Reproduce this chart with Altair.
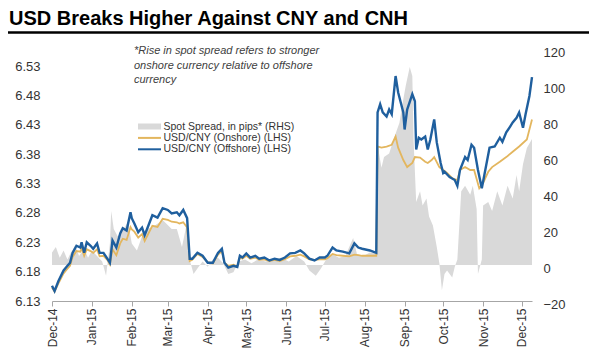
import altair as alt
import pandas as pd

title_text = "USD Breaks Higher Against CNY and CNH"
note_lines = ["*Rise in spot spread refers to stronger",
              "onshore currency relative to offshore",
              "currency"]
legend_labels = ["Spot Spread, in pips* (RHS)", "USD/CNY (Onshore) (LHS)", "USD/CNY (Offshore) (LHS)"]
legend_colors = ["#d9d9d9", "#e3b65e", "#1f5f9e"]

x_ticks = ["2014-12-01", "2015-01-01", "2015-02-01", "2015-03-01", "2015-04-01", "2015-05-01",
           "2015-06-01", "2015-07-01", "2015-08-01", "2015-09-01", "2015-10-01", "2015-11-01",
           "2015-12-01"]
x_domain = ["2014-12-01", "2015-12-09"]
left_ticks = [6.13, 6.18, 6.23, 6.28, 6.33, 6.38, 6.43, 6.48, 6.53]
left_domain = [6.13, 6.559]
right_ticks = [-20, 0, 20, 40, 60, 80, 100, 120]
right_domain = [-20, 120]

offshore_dates = [
    "2014-12-01", "2014-12-03", "2014-12-06", "2014-12-10", "2014-12-13", "2014-12-15", "2014-12-17",
    "2014-12-20", "2014-12-23", "2014-12-24", "2014-12-26", "2014-12-28", "2014-12-31", "2015-01-02",
    "2015-01-05", "2015-01-07", "2015-01-10", "2015-01-13", "2015-01-15", "2015-01-17", "2015-01-20",
    "2015-01-23", "2015-01-25", "2015-01-28", "2015-01-31", "2015-02-01", "2015-02-03", "2015-02-06",
    "2015-02-09", "2015-02-11", "2015-02-14", "2015-02-17", "2015-02-21", "2015-02-25", "2015-03-01",
    "2015-03-04", "2015-03-08", "2015-03-10", "2015-03-13", "2015-03-16", "2015-03-18", "2015-03-20",
    "2015-03-24", "2015-03-28", "2015-04-01", "2015-04-05", "2015-04-09", "2015-04-12", "2015-04-14",
    "2015-04-17", "2015-04-21", "2015-04-24", "2015-04-26", "2015-04-28", "2015-05-01", "2015-05-04",
    "2015-05-08", "2015-05-11", "2015-05-15", "2015-05-19", "2015-05-23", "2015-05-27", "2015-05-31",
    "2015-06-04", "2015-06-08", "2015-06-12", "2015-06-15", "2015-06-19", "2015-06-23", "2015-06-27",
    "2015-07-01", "2015-07-03", "2015-07-07", "2015-07-10", "2015-07-15", "2015-07-20", "2015-07-24",
    "2015-07-27", "2015-07-30", "2015-08-05", "2015-08-10",
    "2015-08-11", "2015-08-13", "2015-08-15", "2015-08-18", "2015-08-20", "2015-08-22", "2015-08-25",
    "2015-08-27", "2015-08-31", "2015-09-01", "2015-09-03", "2015-09-07", "2015-09-09", "2015-09-10",
    "2015-09-12", "2015-09-14", "2015-09-17", "2015-09-19", "2015-09-21", "2015-09-24", "2015-09-26",
    "2015-09-29", "2015-10-01", "2015-10-02", "2015-10-06", "2015-10-10", "2015-10-12", "2015-10-14",
    "2015-10-18", "2015-10-20", "2015-10-23", "2015-10-25", "2015-10-28", "2015-10-31", "2015-11-02",
    "2015-11-06", "2015-11-10", "2015-11-14", "2015-11-16", "2015-11-19", "2015-11-22", "2015-11-24",
    "2015-11-27", "2015-11-29", "2015-12-02", "2015-12-04", "2015-12-07", "2015-12-09"]
offshore_values = [
    6.156, 6.147, 6.164, 6.182, 6.190, 6.195, 6.212, 6.224, 6.221, 6.230, 6.212, 6.230, 6.224, 6.219,
    6.228, 6.212, 6.212, 6.202, 6.195, 6.233, 6.221, 6.245, 6.254, 6.250, 6.281, 6.271, 6.262, 6.247,
    6.255, 6.242, 6.259, 6.276, 6.272, 6.288, 6.285, 6.279, 6.281, 6.276, 6.285, 6.271, 6.202, 6.202,
    6.212, 6.207, 6.195, 6.195, 6.212, 6.219, 6.195, 6.187, 6.190, 6.188, 6.207, 6.204, 6.211, 6.204,
    6.207, 6.202, 6.204, 6.199, 6.202, 6.200, 6.204, 6.211, 6.212, 6.216, 6.211, 6.202, 6.199, 6.204,
    6.204, 6.207, 6.221, 6.216, 6.214, 6.211, 6.228, 6.221, 6.219, 6.216, 6.212,
    6.451, 6.465, 6.451, 6.444, 6.456, 6.448, 6.513, 6.485, 6.451, 6.422, 6.456, 6.482, 6.470, 6.388,
    6.408, 6.405, 6.410, 6.388, 6.405, 6.439, 6.400, 6.365, 6.348, 6.350, 6.341, 6.336, 6.326, 6.353,
    6.375, 6.370, 6.396, 6.391, 6.353, 6.322, 6.345, 6.391, 6.393, 6.408, 6.401, 6.417, 6.427, 6.434,
    6.442, 6.451, 6.425, 6.448, 6.479, 6.511]

onshore_dates = offshore_dates[:81] + [
    "2015-08-11", "2015-08-14", "2015-08-18", "2015-08-22", "2015-08-25", "2015-08-27", "2015-08-31",
    "2015-09-03", "2015-09-07", "2015-09-09", "2015-09-13", "2015-09-17", "2015-09-19", "2015-09-22",
    "2015-09-24", "2015-09-28", "2015-10-04", "2015-10-08", "2015-10-12", "2015-10-14", "2015-10-18",
    "2015-10-22", "2015-10-25", "2015-10-29", "2015-11-01", "2015-11-05", "2015-11-08", "2015-11-14",
    "2015-11-19", "2015-11-24", "2015-11-29", "2015-12-05", "2015-12-09"]
onshore_values = [
    6.153, 6.146, 6.160, 6.177, 6.185, 6.190, 6.205, 6.215, 6.214, 6.220,
    6.207, 6.218, 6.215, 6.212, 6.218, 6.206, 6.207, 6.200, 6.192, 6.218,
    6.208, 6.228, 6.236, 6.234, 6.256, 6.252, 6.248, 6.238, 6.244, 6.232,
    6.245, 6.258, 6.256, 6.270, 6.268, 6.265, 6.264, 6.262, 6.264, 6.255,
    6.198, 6.200, 6.210, 6.205, 6.196, 6.194, 6.209, 6.215, 6.195, 6.190,
    6.192, 6.189, 6.204, 6.202, 6.207, 6.202, 6.204, 6.200, 6.201, 6.198,
    6.200, 6.198, 6.201, 6.206, 6.207, 6.209, 6.206, 6.201, 6.200, 6.201,
    6.201, 6.203, 6.210, 6.208, 6.207, 6.206, 6.209, 6.208, 6.207, 6.207, 6.207,
    6.393, 6.391, 6.393, 6.396, 6.410, 6.391, 6.370, 6.358, 6.365, 6.375, 6.374, 6.367, 6.365, 6.370,
    6.375, 6.358, 6.348, 6.339, 6.336, 6.353, 6.358, 6.353, 6.353, 6.322, 6.331, 6.350, 6.358, 6.367,
    6.375, 6.384, 6.393, 6.405, 6.439]

spread_dates = [
    "2014-12-01", "2014-12-04", "2014-12-07", "2014-12-10", "2014-12-13", "2014-12-15", "2014-12-19",
    "2014-12-22", "2014-12-26", "2014-12-29", "2015-01-01", "2015-01-05", "2015-01-09", "2015-01-12",
    "2015-01-15", "2015-01-16", "2015-01-18", "2015-01-21", "2015-01-25", "2015-01-29", "2015-02-01",
    "2015-02-05", "2015-02-09", "2015-02-13", "2015-02-19", "2015-02-25", "2015-03-04", "2015-03-08",
    "2015-03-12", "2015-03-16", "2015-03-18", "2015-03-21", "2015-03-24", "2015-03-28", "2015-04-01",
    "2015-04-05", "2015-04-09", "2015-04-13", "2015-04-17", "2015-04-21", "2015-04-25", "2015-04-30",
    "2015-05-05", "2015-05-10", "2015-05-16", "2015-05-22", "2015-05-28", "2015-06-03", "2015-06-09",
    "2015-06-15", "2015-06-19", "2015-06-24", "2015-06-28", "2015-07-02", "2015-07-07", "2015-07-12",
    "2015-07-17", "2015-07-23", "2015-07-26", "2015-07-31", "2015-08-05", "2015-08-10", "2015-08-11",
    "2015-08-14", "2015-08-16", "2015-08-20", "2015-08-24", "2015-08-28", "2015-08-30", "2015-09-02",
    "2015-09-05", "2015-09-07", "2015-09-08", "2015-09-10", "2015-09-13", "2015-09-15", "2015-09-18",
    "2015-09-20", "2015-09-23", "2015-09-26", "2015-09-28", "2015-09-30", "2015-10-02", "2015-10-04",
    "2015-10-08", "2015-10-10", "2015-10-12", "2015-10-15", "2015-10-18", "2015-10-22", "2015-10-24",
    "2015-10-27", "2015-10-28", "2015-10-31", "2015-11-01", "2015-11-05", "2015-11-08", "2015-11-12",
    "2015-11-16", "2015-11-20", "2015-11-24", "2015-11-27", "2015-11-29", "2015-12-02", "2015-12-05",
    "2015-12-09"]
spread_values = [
    7, 10, 4, 8, 3, 6, 11, 5, 9, 4, 8, 5, 2, -6, 12, 30, 20, 16, 19, 24, 12, 8, 16, 20, 22, 25, 20, 20,
    10, 24, 3, -5, -2, 2, -1, 3, 4, 1, -5, -4, 2, 3, 1, 3, 2, 3, 4, 2, 5, 2, -3, -6, -2, 3, 6, 4, 5, 15,
    6, 5, 7, 7, 67, 54, 60, 62, 71, 79, 88, 100, 110, 105, 69, 35, 41, 33, 37, 27, 22, 10, 1, -14, -5,
    -3, -7, -1, 3, 41, 44, 39, 44, 31, -5, 3, 33, 35, 30, 41, 33, 44, 37, 50, 41, 56, 65, 70]

FONT = "Liberation Sans"


def utc(s):
    t = pd.Timestamp(s)
    return alt.DateTime(year=t.year, month=t.month, date=t.day, utc=True)


x_enc = alt.X("date:T",
              scale=alt.Scale(type="utc", domain=[utc(d) for d in x_domain]),
              axis=alt.Axis(values=[utc(d) for d in x_ticks], format="%b-%y", labelAngle=-90,
                            title=None, grid=False, domainColor="#a6a6a6", tickColor="#a6a6a6",
                            tickSize=5, labelPadding=2, labelFontSize=12, labelColor="#333333",
                            labelFont=FONT))

spread_df = pd.DataFrame({"date": spread_dates, "spread": spread_values})
cnh_df = pd.DataFrame({"date": offshore_dates, "rate": offshore_values})
cny_df = pd.DataFrame({"date": onshore_dates, "rate": onshore_values})

area = alt.Chart(spread_df).mark_area(color=legend_colors[0], interpolate="linear").encode(
    x=x_enc,
    y=alt.Y("spread:Q", scale=alt.Scale(domain=right_domain, nice=False, zero=False),
            axis=alt.Axis(orient="right", values=right_ticks, title=None, grid=False, domain=False,
                          ticks=False, labelPadding=11, labelFontSize=13, labelColor="#333333",
                          labelFont=FONT, labelOffset=3)))

left_scale = alt.Scale(domain=left_domain, nice=False, zero=False)
left_axis = alt.Axis(orient="left", values=left_ticks, format=".2f", title=None, grid=False,
                     domain=False, ticks=False, labelPadding=12, labelFontSize=13,
                     labelColor="#333333", labelFont=FONT)
cny_line = alt.Chart(cny_df).mark_line(color=legend_colors[1], strokeWidth=1.8).encode(
    x=x_enc, y=alt.Y("rate:Q", scale=left_scale, axis=left_axis))
cnh_line = alt.Chart(cnh_df).mark_line(color=legend_colors[2], strokeWidth=2.4).encode(
    x=x_enc, y=alt.Y("rate:Q", scale=left_scale, axis=left_axis))
lines = alt.layer(cny_line, cnh_line)

legend_layers = []
for i, (lab, col) in enumerate(zip(legend_labels, legend_colors)):
    yy = 77.5 + i * 11.4
    sw = 6 if i == 0 else 2
    ldf = pd.DataFrame({"label": [lab]})
    legend_layers.append(
        alt.Chart(ldf).mark_rule(color=col, strokeWidth=sw).encode(
            x=alt.value(86), x2=alt.value(109), y=alt.value(yy)))
    legend_layers.append(
        alt.Chart(ldf).mark_text(align="left", baseline="middle", fontSize=10.5, color="#333333",
                                 font=FONT).encode(
            x=alt.value(111.5), y=alt.value(yy), text="label:N"))

note = alt.Chart(pd.DataFrame({"k": [0]})).mark_text(
    align="left", baseline="top", fontSize=11, fontStyle="italic", color="#404040",
    font=FONT, lineHeight=14.5).encode(
    x=alt.value(82), y=alt.value(-4), text=alt.value(note_lines))

title_mark = alt.Chart(pd.DataFrame({"t": [title_text]})).mark_text(
    align="left", baseline="alphabetic", fontSize=20, fontWeight="bold", color="black",
    font=FONT).encode(x=alt.value(-43), y=alt.value(-24), text="t:N")

title_rule = alt.Chart(pd.DataFrame({"k": [0]})).mark_rule(color="black", strokeWidth=2.5).encode(
    x=alt.value(-47), x2=alt.value(543), y=alt.value(-16.5))

chart = alt.layer(area, lines, *legend_layers, note, title_mark, title_rule).resolve_scale(
    y="independent"
).properties(
    width=480, height=252,
    padding={"left": 44, "top": 41, "right": 57, "bottom": 55},
    autosize=alt.AutoSizeParams(type="none"),
).configure_view(stroke=None)

chart.save("out.html", embed_options={"renderer": "svg", "actions": False})
